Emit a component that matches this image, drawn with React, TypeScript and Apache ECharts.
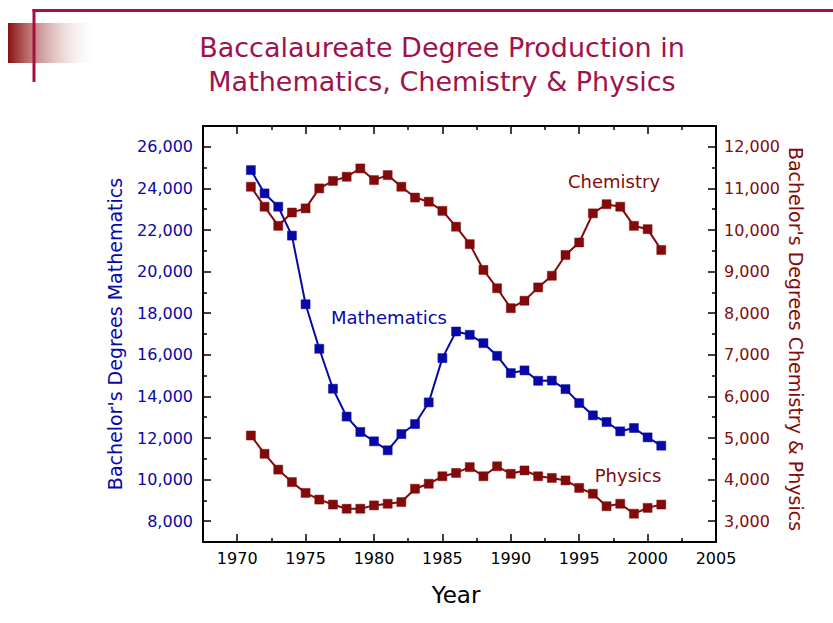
import React, { useEffect, useRef } from "react";
import * as echarts from "echarts";

const years = [1971, 1972, 1973, 1974, 1975, 1976, 1977, 1978, 1979, 1980, 1981, 1982, 1983, 1984, 1985, 1986, 1987, 1988, 1989, 1990, 1991, 1992, 1993, 1994, 1995, 1996, 1997, 1998, 1999, 2000, 2001];
const mathematics = [24880, 23760, 23120, 21730, 18430, 16290, 14370, 13030, 12290, 11840, 11410, 12190, 12670, 13710, 15840, 17120, 16960, 16560, 15950, 15120, 15250, 14750, 14760, 14350, 13680, 13090, 12770, 12320, 12480, 12030, 11630];
const chemistry = [11040, 10560, 10100, 10420, 10520, 11000, 11180, 11280, 11480, 11200, 11320, 11040, 10780, 10680, 10460, 10080, 9660, 9040, 8600, 8120, 8300, 8620, 8900, 9400, 9700, 10400, 10620, 10560, 10100, 10020, 9520];
const physics = [5060, 4620, 4240, 3940, 3680, 3520, 3400, 3300, 3300, 3380, 3420, 3460, 3780, 3900, 4080, 4160, 4300, 4080, 4320, 4140, 4220, 4080, 4040, 3980, 3800, 3660, 3360, 3420, 3180, 3320, 3400];

const xMajorTicks = [1970, 1975, 1980, 1985, 1990, 1995, 2000, 2005];
const xMinorTicks = [1972.5, 1977.5, 1982.5, 1987.5, 1992.5, 1997.5, 2002.5];
const leftMajorTicks = [8000, 10000, 12000, 14000, 16000, 18000, 20000, 22000, 24000, 26000];
const leftMinorTicks = [7000, 9000, 11000, 13000, 15000, 17000, 19000, 21000, 23000, 25000, 27000];
const rightMajorTicks = [3000, 4000, 5000, 6000, 7000, 8000, 9000, 10000, 11000, 12000];
const rightMinorTicks = [2500, 3500, 4500, 5500, 6500, 7500, 8500, 9500, 10500, 11500, 12500];

const FONT = "'DejaVu Sans', sans-serif";
const BLUE = "#0808A8";
const RED = "#820A0A";
const TITLE = "#A0124A";
const DECOR = "#A8103F";

const pairs = (vals: number[]) => years.map((y, i) => [y, vals[i]]);
const fmt = (v: number) => v.toLocaleString("en-US");

export default function App() {
  const ref = useRef<HTMLDivElement>(null);
  useEffect(() => {
    if (!ref.current) return;
    const chart = echarts.init(ref.current, null, { renderer: "svg" });
    const grid = { left: 203, top: 126, right: 117, bottom: 81, containLabel: false };
    const frameLine = { show: true, onZero: false, lineStyle: { color: "#000", width: 2 } };
    const majorTick = (vals: number[]) => ({ show: true, inside: true, length: 8, customValues: vals, lineStyle: { color: "#000", width: 1.5 } });
    const minorTick = (vals: number[]) => ({ show: true, inside: true, length: 4, customValues: vals, lineStyle: { color: "#000", width: 1.5 } });
    const noLabel = { show: false };
    const noSplit = { show: false };
    const xb = { type: "value", min: 1967.5, max: 2005, splitLine: noSplit };
    const yl = { type: "value", min: 7000, max: 27000, splitLine: noSplit };
    const yr = { type: "value", min: 2500, max: 12500, splitLine: noSplit };

    const seriesStyle = (color: string, data: number[][], yIdx: number, name: string) => ({
      type: "line",
      name,
      xAxisIndex: 0,
      yAxisIndex: yIdx,
      data,
      symbol: "rect",
      symbolSize: 9,
      lineStyle: { color, width: 2 },
      itemStyle: { color, borderColor: color, borderWidth: 0.5 },
      z: 3,
    });

    chart.setOption({
      animation: false,
      backgroundColor: "#ffffff",
      grid: [grid, { ...grid }],
      xAxis: [
        { ...xb, gridIndex: 0, position: "bottom", axisLine: frameLine, axisTick: majorTick(xMajorTicks), axisLabel: { customValues: xMajorTicks, color: "#000", fontSize: 16, margin: 8, fontFamily: FONT, formatter: (v: number) => String(v) } },
        { ...xb, gridIndex: 0, position: "top", axisLine: frameLine, axisTick: majorTick(xMajorTicks), axisLabel: noLabel },
        { ...xb, gridIndex: 1, position: "bottom", axisLine: { show: false }, axisTick: minorTick(xMinorTicks), axisLabel: noLabel },
        { ...xb, gridIndex: 1, position: "top", axisLine: { show: false }, axisTick: minorTick(xMinorTicks), axisLabel: noLabel },
      ],
      yAxis: [
        { ...yl, gridIndex: 0, position: "left", axisLine: frameLine, axisTick: majorTick(leftMajorTicks), axisLabel: { customValues: leftMajorTicks, color: BLUE, fontSize: 16, margin: 10, fontFamily: FONT, formatter: fmt } },
        { ...yr, gridIndex: 0, position: "right", axisLine: frameLine, axisTick: majorTick(rightMajorTicks), axisLabel: { customValues: rightMajorTicks, color: RED, fontSize: 16, margin: 8, fontFamily: FONT, formatter: fmt } },
        { ...yl, gridIndex: 1, position: "left", axisLine: { show: false }, axisTick: minorTick(leftMinorTicks), axisLabel: noLabel },
        { ...yr, gridIndex: 1, position: "right", axisLine: { show: false }, axisTick: minorTick(rightMinorTicks), axisLabel: noLabel },
      ],
      series: [
        seriesStyle(BLUE, pairs(mathematics), 0, "Mathematics"),
        seriesStyle(RED, pairs(chemistry), 1, "Chemistry"),
        seriesStyle(RED, pairs(physics), 1, "Physics"),
      ],
      graphic: [
        {
          type: "rect",
          shape: { x: 8, y: 23, width: 92, height: 40 },
          style: {
            fill: new echarts.graphic.LinearGradient(0, 0, 1, 0, [
              { offset: 0, color: "#8A1010" },
              { offset: 1, color: "rgba(255,255,255,0)" },
            ]),
          },
          z: 1,
        },
        { type: "line", shape: { x1: 34, y1: 9, x2: 34, y2: 82 }, style: { stroke: DECOR, lineWidth: 3 }, z: 2 },
        { type: "line", shape: { x1: 32.5, y1: 10.5, x2: 833, y2: 10.5 }, style: { stroke: DECOR, lineWidth: 3 }, z: 2 },
        { type: "text", x: 442, y: 47, style: { text: "Baccalaureate Degree Production in", fill: TITLE, font: `27px ${FONT}`, align: "center", verticalAlign: "middle" } },
        { type: "text", x: 442, y: 81, style: { text: "Mathematics, Chemistry & Physics", fill: TITLE, font: `27px ${FONT}`, align: "center", verticalAlign: "middle" } },
        { type: "text", x: 115, y: 334, rotation: Math.PI / 2, style: { text: "Bachelor's Degrees Mathematics", fill: BLUE, font: `19px ${FONT}`, align: "center", verticalAlign: "middle" } },
        { type: "text", x: 796, y: 339, rotation: -Math.PI / 2, style: { text: "Bachelor's Degrees Chemistry & Physics", fill: RED, font: `19px ${FONT}`, align: "center", verticalAlign: "middle" } },
        { type: "text", x: 456, y: 595, style: { text: "Year", fill: "#000", font: `23px ${FONT}`, align: "center", verticalAlign: "middle" } },
        { type: "text", x: 389, y: 317, style: { text: "Mathematics", fill: BLUE, font: `18px ${FONT}`, align: "center", verticalAlign: "middle" } },
        { type: "text", x: 614, y: 181, style: { text: "Chemistry", fill: RED, font: `18px ${FONT}`, align: "center", verticalAlign: "middle" } },
        { type: "text", x: 628, y: 475, style: { text: "Physics", fill: RED, font: `18px ${FONT}`, align: "center", verticalAlign: "middle" } },
      ],
    });
    return () => chart.dispose();
  }, []);
  return <div ref={ref} style={{ position: "fixed", left: 0, top: 0, width: 833, height: 623, background: "#fff" }} />;
}
